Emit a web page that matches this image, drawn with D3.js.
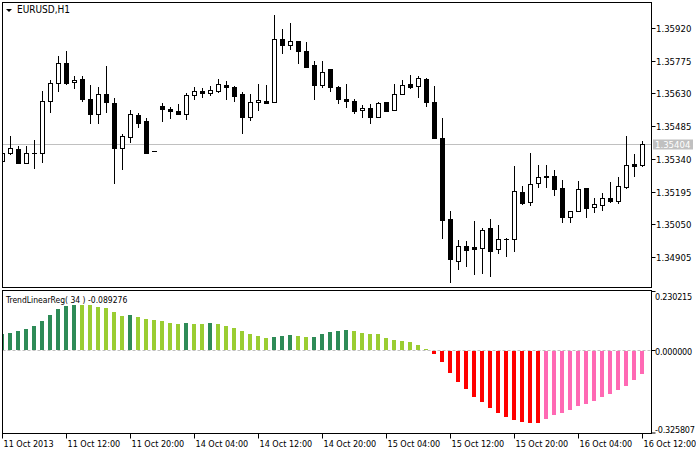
<!DOCTYPE html>
<html><head><meta charset="utf-8">
<script src="https://cdn.jsdelivr.net/npm/d3@7"></script>
<style>
body{margin:0;background:#fff}
svg{display:block}
text{font-family:"DejaVu Sans Condensed","DejaVu Sans",sans-serif;fill:#000}
</style>
</head><body>
<svg id="c" width="696" height="450"></svg>
<script>
// ---- DATA (bars from 11 Oct 2013 04:00 to 16 Oct 2013 12:00, H1) ----
const symbolTitle = "EURUSD,H1";
const opens = [1.35331,1.35366,1.35384,1.35322,1.35366,1.35366,1.35596,1.35676,1.35765,1.35681,1.35694,1.35605,1.35539,1.35628,1.35588,1.35388,1.35437,1.35534,1.35508,1.35374,1.35574,1.35561,1.35552,1.35539,1.35623,1.35641,1.35632,1.35641,1.35667,1.35659,1.35628,1.35526,1.35592,1.35596,1.35592,1.35871,1.35845,1.35862,1.35818,1.35756,1.35667,1.35738,1.35659,1.35605,1.35596,1.35557,1.35565,1.35526,1.35592,1.35557,1.35628,1.35672,1.35663,1.35694,1.35592,1.35433,1.35074,1.34887,1.34954,1.34949,1.34945,1.35034,1.34941,1.34985,1.34985,1.35193,1.35149,1.35233,1.35264,1.35264,1.35211,1.35082,1.35109,1.35211,1.35127,1.35136,1.35167,1.35153,1.35215,1.35317,1.35313];
const highs = [1.35368,1.35441,1.35397,1.35397,1.35424,1.35641,1.35690,1.35796,1.35818,1.35707,1.35707,1.35667,1.35659,1.35752,1.35610,1.35450,1.35557,1.35543,1.35521,1.35375,1.35588,1.35570,1.35583,1.35632,1.35659,1.35654,1.35663,1.35694,1.35685,1.35663,1.35636,1.35628,1.35672,1.35667,1.35978,1.35916,1.35942,1.35864,1.35858,1.35774,1.35774,1.35740,1.35663,1.35672,1.35605,1.35579,1.35583,1.35592,1.35594,1.35672,1.35690,1.35712,1.35707,1.35698,1.35663,1.35521,1.35109,1.34980,1.34976,1.35065,1.35034,1.35074,1.35047,1.34987,1.35308,1.35220,1.35366,1.35313,1.35313,1.35291,1.35246,1.35110,1.35242,1.35213,1.35167,1.35189,1.35237,1.35260,1.35441,1.35362,1.35419];
const lows = [1.35326,1.35362,1.35320,1.35320,1.35300,1.35326,1.35548,1.35641,1.35674,1.35654,1.35596,1.35499,1.35499,1.35548,1.35233,1.35295,1.35415,1.35481,1.35366,1.35373,1.35508,1.35521,1.35537,1.35517,1.35605,1.35614,1.35623,1.35636,1.35605,1.35596,1.35455,1.35512,1.35557,1.35586,1.35590,1.35809,1.35827,1.35765,1.35745,1.35605,1.35659,1.35641,1.35588,1.35570,1.35543,1.35526,1.35499,1.35524,1.35550,1.35555,1.35626,1.35654,1.35614,1.35574,1.35431,1.34989,1.34794,1.34852,1.34865,1.34830,1.34834,1.34821,1.34923,1.34909,1.34932,1.35142,1.35136,1.35215,1.35215,1.35180,1.35060,1.35060,1.35107,1.35082,1.35105,1.35113,1.35149,1.35144,1.35213,1.35264,1.35308];
const closes = [1.35366,1.35388,1.35322,1.35366,1.35366,1.35596,1.35676,1.35765,1.35676,1.35690,1.35605,1.35539,1.35628,1.35592,1.35390,1.35441,1.35539,1.35499,1.35367,1.35374,1.35561,1.35552,1.35539,1.35623,1.35641,1.35632,1.35645,1.35672,1.35659,1.35619,1.35526,1.35592,1.35601,1.35588,1.35871,1.35845,1.35862,1.35818,1.35747,1.35667,1.35725,1.35659,1.35605,1.35596,1.35552,1.35565,1.35526,1.35588,1.35552,1.35628,1.35667,1.35659,1.35698,1.35592,1.35433,1.35069,1.34896,1.34954,1.34936,1.34941,1.35025,1.34932,1.34985,1.34985,1.35198,1.35144,1.35229,1.35260,1.35260,1.35206,1.35082,1.35109,1.35206,1.35122,1.35140,1.35167,1.35153,1.35220,1.35313,1.35308,1.35404];
const trend = [0.0633,0.0672,0.0751,0.0829,0.0947,0.1143,0.1379,0.1615,0.1733,0.1772,0.1764,0.1753,0.1694,0.1654,0.1497,0.1352,0.1360,0.1301,0.1222,0.1183,0.1143,0.1065,0.1037,0.1057,0.1035,0.1030,0.1057,0.1037,0.0947,0.0876,0.0751,0.0644,0.0554,0.0475,0.0515,0.0554,0.0593,0.0554,0.0515,0.0523,0.0633,0.0711,0.0751,0.0790,0.0751,0.0672,0.0633,0.0621,0.0475,0.0397,0.0358,0.0318,0.0200,0.0043,-0.0102,-0.0417,-0.0849,-0.1202,-0.1489,-0.1804,-0.1988,-0.2236,-0.2421,-0.2590,-0.2696,-0.2774,-0.2814,-0.2818,-0.2656,-0.2511,-0.2432,-0.2303,-0.2157,-0.2067,-0.1949,-0.1804,-0.1674,-0.1517,-0.1360,-0.1124,-0.089276];
const priceTicks = [1.35920,1.35775,1.35630,1.35485,1.35340,1.35195,1.35050,1.34905];
const indTicks = [0.230215, 0.000000, -0.325807];
const timeLabels = ["11 Oct 2013","11 Oct 12:00","11 Oct 20:00","14 Oct 04:00","14 Oct 12:00","14 Oct 20:00","15 Oct 04:00","15 Oct 12:00","15 Oct 20:00","16 Oct 04:00","16 Oct 12:00"];
const timeLabelBars = [0,8,16,24,32,40,48,56,64,72,80];
const indicatorName = "TrendLinearReg( 34 )";

// ---- LAYOUT ----
const L = 2.5, R = 651.5;
const mainTop = 2.5, mainBot = 287.5;
const indTop = 290.5, indBot = 433.5;

const svg = d3.select("#c");
const n = closes.length;
const x = d3.scaleLinear().domain([0, n - 1]).range([2, 642]);
const y = d3.scaleLinear().domain([1.34905, 1.35920]).range([257, 28]);
const yi = d3.scaleLinear().domain([indTicks[2], indTicks[0]]).range([433, 291.5]);

const defs = svg.append("defs");
defs.append("clipPath").attr("id","cm").append("rect")
  .attr("x", L).attr("y", mainTop).attr("width", R - L).attr("height", mainBot - mainTop);
defs.append("clipPath").attr("id","ci").append("rect")
  .attr("x", L).attr("y", indTop).attr("width", R - L).attr("height", indBot - indTop);

// ---- MAIN WINDOW ----
const gm = svg.append("g").attr("clip-path","url(#cm)");
const last = closes[n - 1];
const yLast = Math.round(y(last)) + 0.5;
gm.append("line").attr("x1", L).attr("x2", R).attr("y1", yLast).attr("y2", yLast)
  .attr("stroke", "#c0c0c0").attr("stroke-width", 1);

const idx = d3.range(n);
// wicks
gm.selectAll("line.wick").data(idx).join("line").attr("class","wick")
  .attr("x1", i => Math.round(x(i)) + 0.5).attr("x2", i => Math.round(x(i)) + 0.5)
  .attr("y1", i => Math.round(y(highs[i]))).attr("y2", i => Math.round(y(lows[i])) + 1)
  .attr("stroke", "#000").attr("stroke-width", 1);
// bodies
idx.forEach(i => {
  const cx = Math.round(x(i));
  const yt = Math.round(y(Math.max(opens[i], closes[i])));
  const yb = Math.round(y(Math.min(opens[i], closes[i])));
  if (yb - yt < 1) {
    gm.append("line").attr("x1", cx - 2).attr("x2", cx + 3)
      .attr("y1", yt + 0.5).attr("y2", yt + 0.5).attr("stroke", "#000");
  } else {
    const bull = closes[i] > opens[i];
    gm.append("rect").attr("x", cx - 2 + 0.5).attr("y", yt + 0.5)
      .attr("width", 4).attr("height", yb - yt)
      .attr("fill", bull ? "#fff" : "#000").attr("stroke", "#000").attr("stroke-width", 1);
  }
});

// title
svg.append("path").attr("d", "M6,9 L12,9 L9,12 Z").attr("fill", "#000");
svg.append("text").attr("x", 17).attr("y", 13).attr("font-size", "10px").text(symbolTitle);

// price axis
priceTicks.forEach(p => {
  const yy = Math.round(y(p)) + 0.5;
  svg.append("line").attr("x1", R).attr("x2", R + 4).attr("y1", yy).attr("y2", yy).attr("stroke", "#000");
  svg.append("text").attr("x", 656).attr("y", yy + 3.5).attr("font-size", "9.5px").text(p.toFixed(5));
});
svg.append("rect").attr("x", 653).attr("y", yLast - 5).attr("width", 40).attr("height", 10).attr("fill", "#c0c0c0");
svg.append("text").attr("x", 655).attr("y", yLast + 3.5).attr("font-size", "9.5px")
  .style("fill", "#fff").text(last.toFixed(5));

// ---- INDICATOR WINDOW ----
const gi = svg.append("g").attr("clip-path","url(#ci)");
const y0 = Math.round(yi(0)) + 0.5;
gi.append("line").attr("x1", L).attr("x2", R).attr("y1", y0).attr("y2", y0)
  .attr("stroke", "#c0c0c0").attr("stroke-dasharray", "3,2");
const colorOf = i => {
  const v = trend[i], pv = i > 0 ? trend[i - 1] : null;
  if (v >= 0) return (pv === null || v > pv) ? "#2e8b57" : "#9acd32";
  return (pv === null || v < pv) ? "#ff0000" : "#ff69b4";
};
gi.selectAll("rect.h").data(idx).join("rect").attr("class","h")
  .attr("x", i => Math.round(x(i)) - 2)
  .attr("width", 4)
  .attr("y", i => trend[i] >= 0 ? Math.round(yi(trend[i])) : Math.round(yi(0)) + 1)
  .attr("height", i => Math.max(1, Math.abs(Math.round(yi(trend[i])) - Math.round(yi(0)))))
  .attr("fill", colorOf);

svg.append("text").attr("x", 6).attr("y", 302.5).attr("font-size", "8.5px")
  .text(indicatorName + " " + trend[n - 1].toFixed(6));

indTicks.forEach((v, j) => {
  const yy = j === 0 ? 291.5 : (j === indTicks.length - 1 ? 433 : Math.round(yi(v)) + 0.5);
  svg.append("line").attr("x1", R).attr("x2", R + 4).attr("y1", yy).attr("y2", yy).attr("stroke", "#000");
  const off = j === 0 ? 8 : (j === indTicks.length - 1 ? -0.5 : 4);
  svg.append("text").attr("x", 655).attr("y", yy + off).attr("font-size", "9px")
    .attr("letter-spacing", "-0.2px").text(v.toFixed(6));
});

// ---- TIME AXIS ----
timeLabelBars.forEach((b, j) => {
  const xx = Math.round(x(b)) + 0.5;
  svg.append("line").attr("x1", xx).attr("x2", xx).attr("y1", indBot).attr("y2", indBot + 5).attr("stroke", "#000");
  svg.append("text").attr("x", xx + 1).attr("y", 446.5).attr("font-size", "9px").text(timeLabels[j]);
});

// ---- FRAMES ----
const frame = (t, b) => svg.append("rect").attr("x", L).attr("y", t).attr("width", R - L).attr("height", b - t)
  .attr("fill", "none").attr("stroke", "#000").attr("stroke-width", 1);
frame(mainTop, mainBot);
frame(indTop, indBot);
</script>
</body></html>
